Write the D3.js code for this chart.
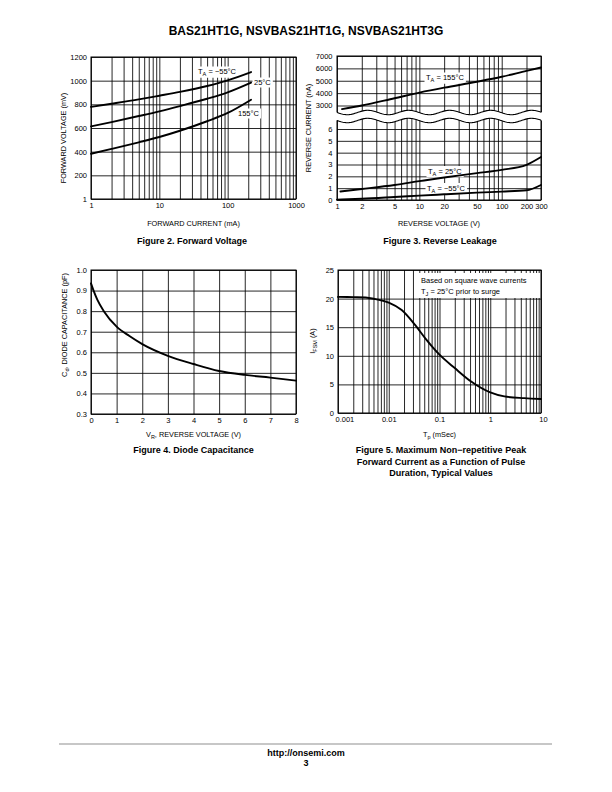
<!DOCTYPE html>
<html><head><meta charset="utf-8">
<script src="https://cdn.jsdelivr.net/npm/d3@7"></script>
<style>
html,body{margin:0;padding:0;background:#fff;}
svg{display:block;font-family:"Liberation Sans",Arial,Helvetica,sans-serif;}
</style></head><body>
<svg id="page" width="612" height="792"></svg>
<script>
// ---------- DATA ----------
// Figure 2: Forward voltage vs forward current
const fig2Current = [1, 2, 5, 10, 20, 50, 100, 220];
const fig2VfM55 = [778, 805, 842, 873, 905, 955, 1003, 1073];
const fig2Vf25 = [614, 650, 701, 741, 785, 847, 901, 983];
const fig2Vf155 = [382, 423, 479, 524, 577, 657, 727, 839];
const fig2XTicks = [1, 10, 100, 1000];
const fig2YTicks = [0, 200, 400, 600, 800, 1000, 1200];
const fig2YLabels = ["1", "200", "400", "600", "800", "1000", "1200"];

// Figure 3: Reverse leakage
const fig3Voltage = [1.15, 2, 5, 10, 20, 50, 100, 200, 300];
const fig3Ir155 = [2710, 3000, 3590, 4040, 4440, 4920, 5320, 5800, 6070];
const fig3Voltage25 = [1.1, 2, 5, 10, 20, 50, 100, 200, 300];
const fig3Ir25 = [0.72, 0.93, 1.27, 1.59, 1.9, 2.27, 2.55, 2.97, 3.63];
const fig3VoltageM55 = [1, 2, 5, 10, 20, 50, 100, 200, 300];
const fig3IrM55 = [0.03, 0.1, 0.25, 0.37, 0.48, 0.62, 0.71, 0.82, 1.27];
const fig3XTicks = [1, 2, 5, 10, 20, 50, 100, 200, 300];
const fig3UpperTicks = [3000, 4000, 5000, 6000, 7000];
const fig3LowerTicks = [0, 1, 2, 3, 4, 5, 6];

// Figure 4: Diode capacitance
const fig4Vr = [0, 0.1, 0.25, 0.5, 1, 1.5, 2, 3, 4, 5, 6, 7, 8];
const fig4Cd = [0.935, 0.9, 0.855, 0.8, 0.725, 0.679, 0.64, 0.583, 0.543, 0.509, 0.49, 0.477, 0.462];
const fig4XTicks = [0, 1, 2, 3, 4, 5, 6, 7, 8];
const fig4YTicks = [0.3, 0.4, 0.5, 0.6, 0.7, 0.8, 0.9, 1.0];

// Figure 5: IFSM vs pulse duration
const fig5Tp = [0.001, 0.002, 0.0035, 0.0055, 0.01, 0.018, 0.033, 0.052, 0.1, 0.2, 0.42, 1, 1.9, 4.7, 10];
const fig5Ifsm = [20.3, 20.25, 20.2, 19.9, 19.3, 18.0, 15.4, 13.1, 10.2, 7.85, 5.5, 3.6, 2.9, 2.6, 2.45];
const fig5XTicks = [0.001, 0.01, 0.1, 1, 10];
const fig5YTicks = [0, 5, 10, 15, 20, 25];

// ---------- LAYOUT ----------
const FONT = '"Liberation Sans", Arial, Helvetica, sans-serif';
const GRID = 0.85, CURVE = 1.9, TICKFS = 7.5, TITLEFS = 7.3, CAPFS = 9;
const svg = d3.select("#page");

function logMinor(lo, hi) {
  const out = [];
  for (let d = lo; d < hi; d *= 10) for (let k = 1; k < 10; k++) out.push(d * k);
  out.push(hi);
  return out;
}
function styleAxis(s) {
  s.attr("font-size", TICKFS).attr("font-family", FONT);
  s.select(".domain").remove();
  s.selectAll("line").attr("stroke", "#000").attr("stroke-width", GRID);
  s.selectAll("text").attr("fill", "#000");
}
function vGrid(g, x, vals, top, bottom) {
  g.append("g").attr("transform", `translate(0,${bottom})`)
    .call(d3.axisBottom(x).tickValues(vals).tickSize(-(bottom - top)).tickFormat(""))
    .call(styleAxis);
}
function hGrid(g, y, vals, p) {
  g.append("g").attr("transform", `translate(${p.x0},0)`)
    .call(d3.axisLeft(y).tickValues(vals).tickSize(-(p.x1 - p.x0)).tickFormat(""))
    .call(styleAxis);
}
function xLabels(g, x, vals, fmt, p, pad) {
  return g.append("g").attr("transform", `translate(0,${p.y1})`)
    .call(d3.axisBottom(x).tickValues(vals).tickSize(0).tickPadding(pad).tickFormat(fmt))
    .call(styleAxis);
}
function yLabels(g, y, vals, fmt, p, pad) {
  return g.append("g").attr("transform", `translate(${p.x0},0)`)
    .call(d3.axisLeft(y).tickValues(vals).tickSize(0).tickPadding(pad).tickFormat(fmt))
    .call(styleAxis);
}
function border(g, p) {
  g.append("rect").attr("x", p.x0).attr("y", p.y0).attr("width", p.x1 - p.x0).attr("height", p.y1 - p.y0)
    .attr("fill", "none").attr("stroke", "#000").attr("stroke-width", 1);
}
function curve(g, xs, ys, x, y) {
  const pts = xs.map((v, i) => [x(v), y(ys[i])]);
  g.append("path").attr("d", d3.line().curve(d3.curveMonotoneX)(pts))
    .attr("fill", "none").attr("stroke", "#000").attr("stroke-width", CURVE).attr("stroke-linecap", "round");
}
// rich text: parts = [[text, "n"|"sub"], ...]
function rich(g, x, yb, parts, opts = {}) {
  const t = g.append("text").attr("x", x).attr("y", yb)
    .attr("font-size", opts.size || TICKFS).attr("font-family", FONT)
    .attr("text-anchor", opts.anchor || "start").attr("fill", "#000");
  if (opts.weight) t.attr("font-weight", opts.weight);
  if (opts.transform) t.attr("transform", opts.transform);
  let shifted = false;
  parts.forEach(([s, kind]) => {
    const ts = t.append("tspan").text(s);
    const fs = opts.size || TICKFS;
    if (kind === "sub") { ts.attr("font-size", fs * 0.75).attr("dy", shifted ? 0 : fs * 0.3); shifted = true; }
    else if (shifted) { ts.attr("dy", -fs * 0.3); shifted = false; }
  });
  return t;
}
function labelBg(g, x, yb, parts, pad = 1.5) {
  const grp = g.append("g");
  const t = rich(grp, x, yb, parts);
  const b = t.node().getBBox();
  grp.insert("rect", "text").attr("x", b.x - pad).attr("y", b.y - 0.5).attr("width", b.width + 2 * pad)
    .attr("height", b.height + 1).attr("fill", "#fff");
}

// ---------- HEADER / FOOTER ----------
svg.append("text").attr("x", 306).attr("y", 35).attr("text-anchor", "middle")
  .attr("font-size", 12).attr("font-weight", "bold").attr("font-family", FONT)
  .text("BAS21HT1G, NSVBAS21HT1G, NSVBAS21HT3G");
svg.append("line").attr("x1", 59).attr("x2", 552).attr("y1", 744).attr("y2", 744)
  .attr("stroke", "#b5b5b5").attr("stroke-width", 1.5);
svg.append("text").attr("x", 306).attr("y", 756).attr("text-anchor", "middle")
  .attr("font-size", 9).attr("font-weight", "bold").attr("font-family", FONT).text("http://onsemi.com");
svg.append("text").attr("x", 306).attr("y", 766).attr("text-anchor", "middle")
  .attr("font-size", 9).attr("font-weight", "bold").attr("font-family", FONT).text("3");

function caption(lines, cx, y0) {
  lines.forEach((s, i) => svg.append("text").attr("x", cx).attr("y", y0 + i * 11.5)
    .attr("text-anchor", "middle").attr("font-size", CAPFS).attr("font-weight", "bold")
    .attr("font-family", FONT).text(s));
}

// ---------- FIGURE 2 ----------
{
  const p = {x0: 91, x1: 296, y0: 57, y1: 199};
  const g = svg.append("g");
  const x = d3.scaleLog().domain([1, 1000]).range([p.x0, p.x1]);
  const y = d3.scaleLinear().domain([0, 1200]).range([p.y1, p.y0]);
  vGrid(g, x, logMinor(1, 1000), p.y0, p.y1);
  hGrid(g, y, fig2YTicks, p);
  border(g, p);
  labelBg(g, 198, 74, [["T", "n"], ["A", "sub"], [" = −55°C", "n"]]);
  labelBg(g, 254, 85, [["25°C", "n"]]);
  labelBg(g, 238, 116, [["155°C", "n"]]);
  curve(g, fig2Current, fig2VfM55, x, y);
  curve(g, fig2Current, fig2Vf25, x, y);
  curve(g, fig2Current, fig2Vf155, x, y);
  xLabels(g, x, fig2XTicks, d3.format("d"), p, 4);
  yLabels(g, y, fig2YTicks, (d, i) => fig2YLabels[i], p, 4);
  rich(svg, (p.x0 + p.x1) / 2, 226, [["FORWARD CURRENT (mA)", "n"]], {anchor: "middle", size: TITLEFS});
  rich(svg, 0, 0, [["FORWARD VOLTAGE (mV)", "n"]], {anchor: "middle", size: TITLEFS, transform: "translate(65.5,138) rotate(-90)"});
  caption(["Figure 2. Forward Voltage"], 192, 244);
}

// ---------- FIGURE 3 ----------
{
  const p = {x0: 337, x1: 541, y0: 56, y1: 200};
  const g = svg.append("g");
  const x = d3.scaleLog().domain([1, 300]).range([p.x0, p.x1]);
  const yU = d3.scaleLinear().domain([3000, 7000]).range([105.5, 56]);
  const yL = d3.scaleLinear().domain([0, 6]).range([200, 129]);
  const vVals = logMinor(1, 100).concat([200, 300]);
  vGrid(g, x, vVals, p.y0, p.y1);
  hGrid(g, yU, fig3UpperTicks, p);
  hGrid(g, yL, fig3LowerTicks, p);
  border(g, p);
  // axis break: two parallel wavy lines with white band between
  const wA = 112.5, wB = 120.5, amp = 2.2, per = 41;
  const xs = d3.range(p.x0 - 1, p.x1 + 1.01, 1);
  const wave = (c) => xs.map(v => [v, c + amp * Math.sin(2 * Math.PI * (v - p.x0) / per)]);
  const band = wave(wA).concat(wave(wB).reverse());
  g.append("path").attr("d", d3.line()(band) + "Z").attr("fill", "#fff");
  [wA, wB].forEach(c => g.append("path").attr("d", d3.line()(wave(c).filter(q => q[0] >= p.x0 && q[0] <= p.x1)))
    .attr("fill", "none").attr("stroke", "#000").attr("stroke-width", 1.1));
  labelBg(g, 426, 80, [["T", "n"], ["A", "sub"], [" = 155°C", "n"]]);
  labelBg(g, 428, 173.5, [["T", "n"], ["A", "sub"], [" = 25°C", "n"]]);
  labelBg(g, 427, 190.5, [["T", "n"], ["A", "sub"], [" = −55°C", "n"]]);
  curve(g, fig3Voltage, fig3Ir155, x, yU);
  curve(g, fig3Voltage25, fig3Ir25, x, yL);
  curve(g, fig3VoltageM55, fig3IrM55, x, yL);
  xLabels(g, x, fig3XTicks, d3.format("d"), p, 4);
  yLabels(g, yU, fig3UpperTicks, d3.format("d"), p, 4.5);
  yLabels(g, yL, fig3LowerTicks, d3.format("d"), p, 4.5);
  rich(svg, (p.x0 + p.x1) / 2, 226, [["REVERSE VOLTAGE (V)", "n"]], {anchor: "middle", size: TITLEFS});
  rich(svg, 0, 0, [["REVERSE CURRENT (nA)", "n"]], {anchor: "middle", size: TITLEFS, transform: "translate(310.5,128) rotate(-90)"});
  caption(["Figure 3. Reverse Leakage"], 440, 244);
}

// ---------- FIGURE 4 ----------
{
  const p = {x0: 91, x1: 296, y0: 270, y1: 414};
  const g = svg.append("g");
  const x = d3.scaleLinear().domain([0, 8]).range([p.x0, p.x1]);
  const y = d3.scaleLinear().domain([0.3, 1.0]).range([p.y1, p.y0]);
  vGrid(g, x, fig4XTicks, p.y0, p.y1);
  hGrid(g, y, fig4YTicks, p);
  border(g, p);
  curve(g, fig4Vr, fig4Cd, x, y);
  xLabels(g, x, fig4XTicks, d3.format("d"), p, 3.5);
  yLabels(g, y, fig4YTicks, d3.format(".1f"), p, 4);
  rich(svg, (p.x0 + p.x1) / 2, 437, [["V", "n"], ["R", "sub"], [", REVERSE VOLTAGE (V)", "n"]], {anchor: "middle", size: TITLEFS});
  rich(svg, 0, 0, [["C", "n"], ["d", "sub"], [", DIODE CAPACITANCE (pF)", "n"]], {anchor: "middle", size: TITLEFS, transform: "translate(66.5,325) rotate(-90)"});
  caption(["Figure 4. Diode Capacitance"], 193.5, 453);
}

// ---------- FIGURE 5 ----------
{
  const p = {x0: 338, x1: 541, y0: 270, y1: 413};
  const g = svg.append("g");
  const x = d3.scaleLog().domain([0.001, 10]).range([p.x0, p.x1]);
  const y = d3.scaleLinear().domain([0, 25]).range([p.y1, p.y0]);
  vGrid(g, x, logMinor(0.001, 10), p.y0, p.y1);
  hGrid(g, y, fig5YTicks, p);
  border(g, p);
  curve(g, fig5Tp, fig5Ifsm, x, y);
  const xl = xLabels(g, x, fig5XTicks, d => d3.format("~g")(d), p, 4);
  xl.selectAll(".tick").filter(d => d === 0.001).select("text").attr("text-anchor", "start").attr("x", -3);
  xl.selectAll(".tick").filter(d => d === 10).select("text").attr("x", 2);
  yLabels(g, y, fig5YTicks, d3.format("d"), p, 4);
  // note box
  g.append("rect").attr("x", 418).attr("y", 273).attr("width", 122).attr("height", 25).attr("fill", "#fff");
  rich(g, 421, 283, [["Based on square wave currents", "n"]]);
  rich(g, 421, 294, [["T", "n"], ["J", "sub"], [" = 25°C prior to surge", "n"]]);
  rich(svg, (p.x0 + p.x1) / 2, 437, [["T", "n"], ["p", "sub"], [" (mSec)", "n"]], {anchor: "middle", size: TITLEFS});
  rich(svg, 0, 0, [["I", "n"], ["FSM", "sub"], [" (A)", "n"]], {anchor: "middle", size: TITLEFS, transform: "translate(314.5,341) rotate(-90)"});
  caption(["Figure 5. Maximum Non−repetitive Peak", "Forward Current as a Function of Pulse", "Duration, Typical Values"], 441, 453);
}
</script></body></html>
